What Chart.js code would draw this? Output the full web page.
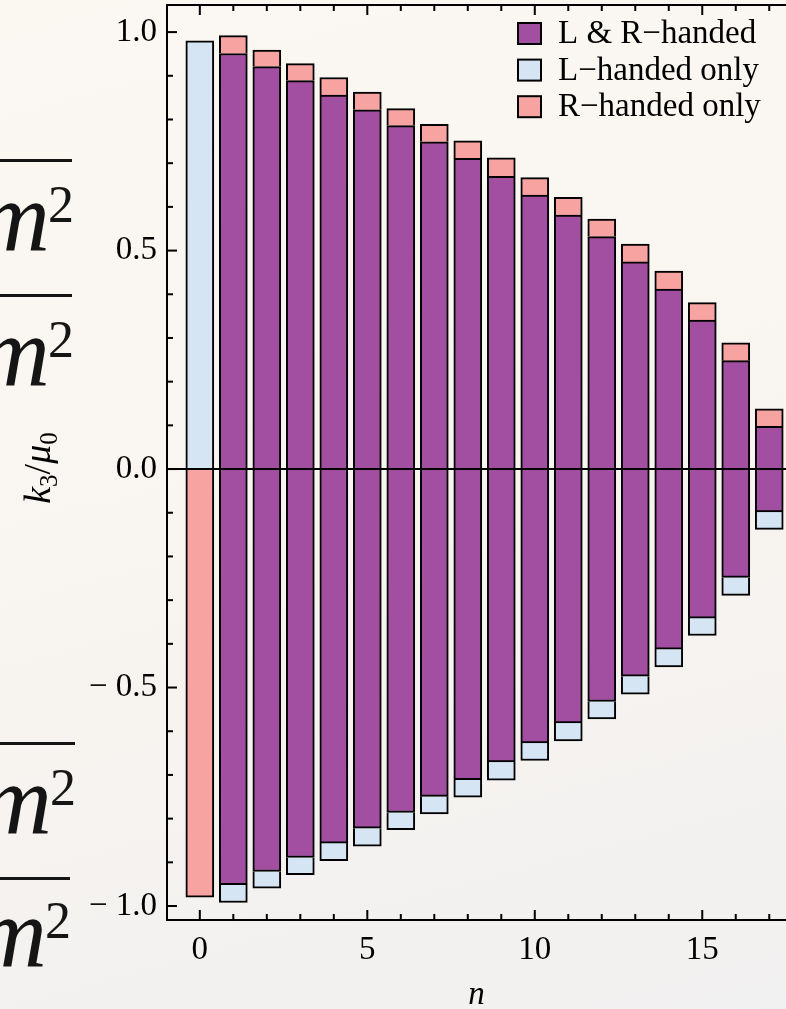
<!DOCTYPE html>
<html>
<head>
<meta charset="utf-8">
<script src="https://cdn.jsdelivr.net/npm/chart.js@4.4.0/dist/chart.umd.min.js"></script>
<style>
html, body { margin: 0; padding: 0; }
body {
	width: 786px; height: 1009px; overflow: hidden;
	background: linear-gradient(165deg, #fbf7f1 0%, #f9f5f0 45%, #f1f0f0 100%);
}
#box { position: absolute; left: 0; top: 0; width: 786px; height: 1009px; }
</style>
</head>
<body>
<div id="box"><canvas id="graf"></canvas></div>
<script>
// n = 0 .. 17
var nValues = [0, 1, 2, 3, 4, 5, 6, 7, 8, 9, 10, 11, 12, 13, 14, 15, 16, 17];
// half height of the purple (L & R) part, the bar goes from -v to +v
var lrHanded = [0, 0.951, 0.921, 0.889, 0.856, 0.822, 0.786, 0.749, 0.711, 0.670, 0.627, 0.581, 0.532, 0.474, 0.412, 0.341, 0.248, 0.098];
// outer edge of the whole bar (top of pink / bottom of light blue)
var outerEdge = [0.980, 0.992, 0.959, 0.928, 0.896, 0.863, 0.825, 0.789, 0.751, 0.712, 0.667, 0.622, 0.572, 0.515, 0.453, 0.381, 0.289, 0.138];

var seriesNames = ['L & R\u2212handed', 'L\u2212handed only', 'R\u2212handed only'];
var seriesColors = ['#a24fa2', '#d6e5f3', '#f6a3a2'];

var xTickLabels = [0, 5, 10, 15];
var yTickLabels = [-1.0, -0.5, 0.0, 0.5, 1.0];
var yMinorTicks = [-1.0, -0.9, -0.8, -0.7, -0.6, -0.5, -0.4, -0.3, -0.2, -0.1, 0.0, 0.1, 0.2, 0.3, 0.4, 0.5, 0.6, 0.7, 0.8, 0.9, 1.0];

var fuente = '"Liberation Serif", "Times New Roman", serif';

var datosLR = [], datosL = [], datosR = [];
for (var i = 0; i < nValues.length; i++) {
	var n = nValues[i];
	if (lrHanded[i] > 0) {
		datosLR.push({x: n, y: [-lrHanded[i], lrHanded[i]]});
		datosL.push({x: n, y: [-outerEdge[i], -lrHanded[i]]});
		datosR.push({x: n, y: [lrHanded[i], outerEdge[i]]});
	} else {
		// n = 0: no L&R part, L only up and R only down
		datosL.push({x: n, y: [0, outerEdge[i]]});
		datosR.push({x: n, y: [-outerEdge[i], 0]});
	}
}

function fmtY(v) {
	if (Math.abs(v) < 1e-9) return '0.0';
	return (v < 0 ? '\u2212 ' : '') + Math.abs(v).toFixed(1);
}

var extras = {
	id: 'extras',
	beforeDraw: function(chart) {
		var ctx = chart.ctx;
		ctx.save();
		// bits of the slide behind the plot
		ctx.fillStyle = '#151515';
		ctx.fillRect(0, 159, 72, 3);
		ctx.fillRect(0, 294, 72, 3);
		ctx.fillRect(0, 742, 75, 3);
		ctx.fillRect(0, 877, 70, 3);
		ctx.textBaseline = 'alphabetic';
		var bases = [250, 385, 833, 966];
		var supX = [48, 48, 50, 45];
		for (var k = 0; k < bases.length; k++) {
			ctx.font = 'italic 100px ' + fuente;
			ctx.textAlign = 'right';
			ctx.fillText('m', supX[k] + 2, bases[k]);
			ctx.font = '52px ' + fuente;
			ctx.textAlign = 'left';
			ctx.fillText('2', supX[k], bases[k] - 28);
		}
		ctx.restore();
	},
	afterDatasetsDraw: function(chart) {
		var ctx = chart.ctx;
		var a = chart.chartArea;
		var xs = chart.scales.x, ys = chart.scales.y;
		ctx.save();
		ctx.strokeStyle = '#000';
		ctx.lineWidth = 2;

		// zero line
		var y0 = ys.getPixelForValue(0);
		ctx.beginPath();
		ctx.moveTo(a.left, y0);
		ctx.lineTo(a.right, y0);
		ctx.stroke();

		// top frame
		ctx.beginPath();
		ctx.moveTo(a.left - 1, a.top);
		ctx.lineTo(a.right, a.top);
		ctx.stroke();

		// ticks pointing inwards
		for (var j = 0; j < yMinorTicks.length; j++) {
			var v = yMinorTicks[j];
			var big = yTickLabels.some(function(t){ return Math.abs(t - v) < 1e-9; });
			var py = ys.getPixelForValue(v);
			ctx.beginPath();
			ctx.moveTo(a.left, py);
			ctx.lineTo(a.left + (big ? 10 : 6), py);
			ctx.stroke();
		}
		for (var k = 0; k < nValues.length; k++) {
			var nv = nValues[k];
			var bigx = xTickLabels.indexOf(nv) >= 0;
			var px = xs.getPixelForValue(nv);
			var len = bigx ? 10 : 6;
			ctx.beginPath();
			ctx.moveTo(px, a.bottom);
			ctx.lineTo(px, a.bottom - len);
			ctx.moveTo(px, a.top);
			ctx.lineTo(px, a.top + len);
			ctx.stroke();
		}

		// legend
		ctx.font = '33px ' + fuente;
		ctx.textAlign = 'left';
		ctx.textBaseline = 'alphabetic';
		for (var d = 0; d < seriesNames.length; d++) {
			var ty = a.top + 18 + d * 36.6;
			ctx.fillStyle = seriesColors[d];
			ctx.fillRect(518, ty, 23, 21);
			ctx.lineWidth = 2;
			ctx.strokeRect(518, ty, 23, 21);
			ctx.fillStyle = '#000';
			ctx.fillText(seriesNames[d], 558, ty + 20);
		}

		// y title k3/mu0, rotated
		var partes = [
			{t: 'k', f: 'italic 38px ', dy: 0},
			{t: '3', f: '25px ', dy: 7},
			{t: '/', f: '38px ', dy: 0},
			{t: '\u03bc', f: 'italic 38px ', dy: 0},
			{t: '0', f: '25px ', dy: 7}
		];
		var total = 0;
		partes.forEach(function(p){ ctx.font = p.f + fuente; p.w = ctx.measureText(p.t).width; total += p.w; });
		ctx.translate(50, 468);
		ctx.rotate(-Math.PI / 2);
		var cx = -total / 2;
		partes.forEach(function(p){
			ctx.font = p.f + fuente;
			ctx.fillText(p.t, cx, p.dy);
			cx += p.w;
		});
		ctx.restore();
	}
};

window.onload = function() {
	var lienzo = document.getElementById('graf').getContext('2d');
	var miGrafica = new Chart(lienzo, {
		type: 'bar',
		data: {
			datasets: [{
				label: seriesNames[0],
				data: datosLR,
				backgroundColor: seriesColors[0],
				borderColor: '#000',
				borderWidth: 2,
				borderSkipped: false
			}, {
				label: seriesNames[1],
				data: datosL,
				backgroundColor: seriesColors[1],
				borderColor: '#000',
				borderWidth: 2,
				borderSkipped: 'start'
			}, {
				label: seriesNames[2],
				data: datosR,
				backgroundColor: seriesColors[2],
				borderColor: '#000',
				borderWidth: 2,
				borderSkipped: 'start'
			}]
		},
		options: {
			responsive: true,
			maintainAspectRatio: false,
			animation: false,
			layout: { padding: { top: 5, right: 0, left: 0, bottom: 0 } },
			datasets: { bar: { grouped: false, barThickness: 28 } },
			plugins: {
				legend: { display: false },
				tooltip: { enabled: false }
			},
			scales: {
				x: {
					type: 'linear',
					offset: false,
					min: -0.98,
					max: 17.5,
					afterBuildTicks: function(s) { s.ticks = xTickLabels.map(function(v){ return {value: v}; }); },
					afterFit: function(s) { s.height = 89; s.paddingLeft = 0; s.paddingRight = 0; },
					grid: { display: false, drawTicks: false },
					border: { display: true, color: '#000', width: 2 },
					ticks: {
						color: '#000',
						font: { family: fuente, size: 33 },
						padding: 11,
						maxRotation: 0,
						callback: function(v) { return String(v); }
					},
					title: {
						display: true,
						text: 'n',
						color: '#000',
						font: { family: fuente, size: 33, style: 'italic' },
						padding: { top: 0, bottom: -6 }
					}
				},
				y: {
					min: -1.032,
					max: 1.062,
					afterBuildTicks: function(s) { s.ticks = yTickLabels.map(function(v){ return {value: v}; }); },
					afterFit: function(s) { s.width = 167; s.paddingTop = 0; s.paddingBottom = 0; },
					grid: { display: false, drawTicks: false },
					border: { display: true, color: '#000', width: 2 },
					ticks: {
						color: '#000',
						font: { family: fuente, size: 33 },
						padding: 10,
						callback: function(v) { return fmtY(v); }
					}
				}
			}
		},
		plugins: [extras]
	});
};
</script>
</body>
</html>
